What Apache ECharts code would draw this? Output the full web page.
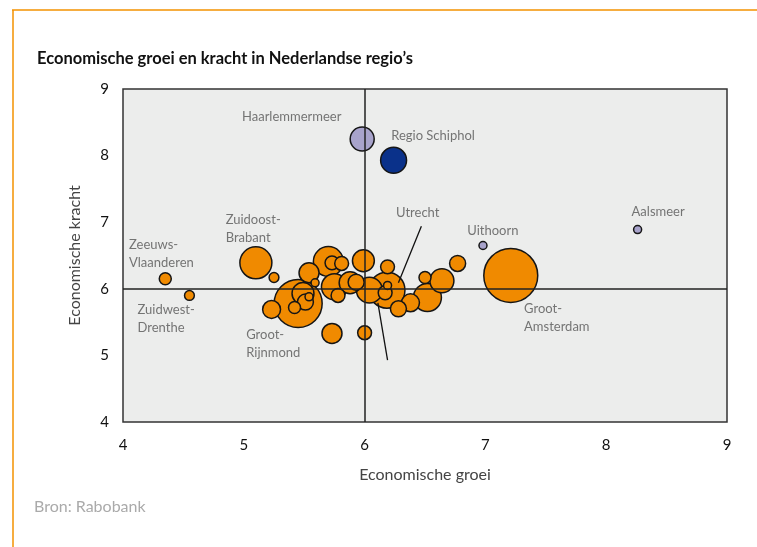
<!DOCTYPE html>
<html lang="nl" style="height: 100%">
<head>
  <meta charset="utf-8">
</head>
<body style="height: 100%; margin: 0; background: #fff">
  <div id="container" style="width: 757px; height: 547px"></div>
  <script type="text/javascript" src="https://cdn.jsdelivr.net/npm/echarts@6/dist/echarts.min.js"></script>
  <script type="text/javascript">
    // groei (x), kracht (y), omvang (bubble area weight)
    var oranjeX = [5.10, 5.25, 5.45, 5.23, 5.49, 5.42, 5.54, 5.59, 5.54, 5.70, 5.73, 5.81, 5.75, 5.78, 5.99, 5.88, 5.93, 6.04, 6.19, 6.185, 6.17, 6.19, 6.28, 6.38, 6.50, 6.52, 6.64, 6.77, 5.73, 6.00, 7.21, 4.35, 4.55, 5.51];
    var oranjeY = [6.39, 6.17, 5.78, 5.69, 5.93, 5.72, 5.88, 6.09, 6.24, 6.41, 6.39, 6.38, 6.03, 5.90, 6.42, 6.09, 6.10, 5.98, 6.33, 5.98, 5.94, 6.05, 5.70, 5.79, 6.17, 5.87, 6.12, 6.38, 5.33, 5.34, 6.20, 6.15, 5.90, 5.80];
    var oranjeOmvang = [64, 6, 144, 20, 30, 9, 4, 4, 25, 56, 12, 12, 42, 12, 30, 30, 16, 42, 12, 81, 12, 4, 16, 20, 9, 49, 36, 16, 25, 12, 182, 9, 6, 16];

    var lilaX = [5.98, 6.98, 8.26];
    var lilaY = [8.25, 6.65, 6.89];
    var lilaOmvang = [36, 4, 4];

    var blauwX = [6.24];
    var blauwY = [7.93];
    var blauwOmvang = [42];

    var labelNamen = ['Haarlemmermeer', 'Regio Schiphol', 'Utrecht', 'Uithoorn', 'Aalsmeer',
      'Zeeuws-\nVlaanderen', 'Zuidwest-\nDrenthe', 'Zuidoost-\nBrabant', 'Groot-\nRijnmond', 'Groot-\nAmsterdam'];
    var labelX = [4.985, 6.22, 6.26, 6.85, 8.21, 4.05, 4.12, 4.85, 5.02, 7.32];
    var labelY = [8.58, 8.29, 7.14, 6.87, 7.15, 6.52, 5.55, 6.90, 5.17, 5.56];

    // verbindingslijnen [x1, y1, x2, y2]
    var lijnen = [[6.47, 6.94, 6.28, 6.09], [6.11, 5.79, 6.19, 4.93]];

    var asTicks = [4, 5, 6, 7, 8, 9];

    function bubbels(xs, ys, ws) {
      var d = xs.map(function (x, i) { return [x, ys[i], ws[i]]; });
      d.sort(function (a, b) { return b[2] - a[2]; });
      return d;
    }

    var dom = document.getElementById('container');
    var myChart = echarts.init(dom, null, { renderer: 'canvas' });

    var font = 'Lato, "Noto Sans", sans-serif';
    var bubbleStyle = function (color) {
      return { color: color, borderColor: '#151515', borderWidth: 1.5, opacity: 1 };
    };
    var size = function (v) { return 4 * Math.sqrt(v[2]); };

    var option = {
      animation: false,
      backgroundColor: '#fff',
      textStyle: { fontFamily: font },
      title: {
        text: 'Economische groei en kracht in Nederlandse regio\u2019s',
        left: 32,
        top: 45,
        textStyle: { fontSize: 16.5, fontWeight: 'bold', color: '#111', fontFamily: font }
      },
      graphic: [
        { type: 'line', shape: { x1: 12, y1: 10, x2: 757, y2: 10 }, style: { stroke: '#f39200', lineWidth: 1.5 } },
        { type: 'line', shape: { x1: 13, y1: 10, x2: 13, y2: 547 }, style: { stroke: '#f39200', lineWidth: 1.5 } },
        { type: 'text', left: 34, top: 499, style: { text: 'Bron: Rabobank', fill: '#aaa', font: '16px ' + font } }
      ],
      grid: {
        left: 123, right: 30, top: 89, bottom: 125,
        show: true,
        backgroundColor: '#ecedec',
        borderColor: '#333',
        borderWidth: 1.5
      },
      xAxis: {
        type: 'value', min: asTicks[0], max: asTicks[asTicks.length - 1], interval: 1,
        name: 'Economische groei', nameLocation: 'middle', nameGap: 45,
        nameTextStyle: { fontSize: 16, color: '#444', fontFamily: font },
        axisLine: { show: false }, axisTick: { show: false }, splitLine: { show: false },
        axisLabel: { fontSize: 15, color: '#111', margin: 16 }
      },
      yAxis: {
        type: 'value', min: asTicks[0], max: asTicks[asTicks.length - 1], interval: 1,
        name: 'Economische kracht', nameLocation: 'middle', nameGap: 40,
        nameTextStyle: { fontSize: 16, color: '#444', fontFamily: font },
        axisLine: { show: false }, axisTick: { show: false }, splitLine: { show: false },
        axisLabel: { fontSize: 15, color: '#111', margin: 14 }
      },
      series: [
        {
          type: 'scatter',
          data: [],
          silent: true,
          markLine: {
            silent: true, symbol: 'none', label: { show: false },
            lineStyle: { color: '#222', width: 1.5, type: 'solid' },
            data: [{ xAxis: 6 }, { yAxis: 6 }]
          }
        },
        {
          type: 'scatter',
          data: bubbels(oranjeX, oranjeY, oranjeOmvang),
          symbolSize: size,
          itemStyle: bubbleStyle('#f08a00'),
          z: 3
        },
        {
          type: 'scatter',
          data: bubbels(lilaX, lilaY, lilaOmvang),
          symbolSize: size,
          itemStyle: bubbleStyle('#a8a3cb'),
          z: 3
        },
        {
          type: 'scatter',
          data: bubbels(blauwX, blauwY, blauwOmvang),
          symbolSize: size,
          itemStyle: bubbleStyle('#0a318a'),
          z: 3
        },
        {
          type: 'scatter',
          data: [],
          silent: true,
          z: 4,
          markLine: {
            silent: true, symbol: 'none', label: { show: false },
            lineStyle: { color: '#111', width: 1.3, type: 'solid' },
            data: lijnen.map(function (l) {
              return [{ coord: [l[0], l[1]] }, { coord: [l[2], l[3]] }];
            })
          }
        },
        {
          type: 'scatter',
          symbolSize: 0,
          silent: true,
          z: 5,
          data: labelNamen.map(function (n, i) {
            return { name: n, value: [labelX[i], labelY[i]] };
          }),
          label: {
            show: true,
            position: 'right',
            distance: 0,
            formatter: '{b}',
            fontSize: 13,
            lineHeight: 18,
            color: '#555',
            fontFamily: font
          }
        }
      ]
    };

    myChart.setOption(option);
    window.addEventListener('resize', myChart.resize);
  </script>
</body>
</html>
